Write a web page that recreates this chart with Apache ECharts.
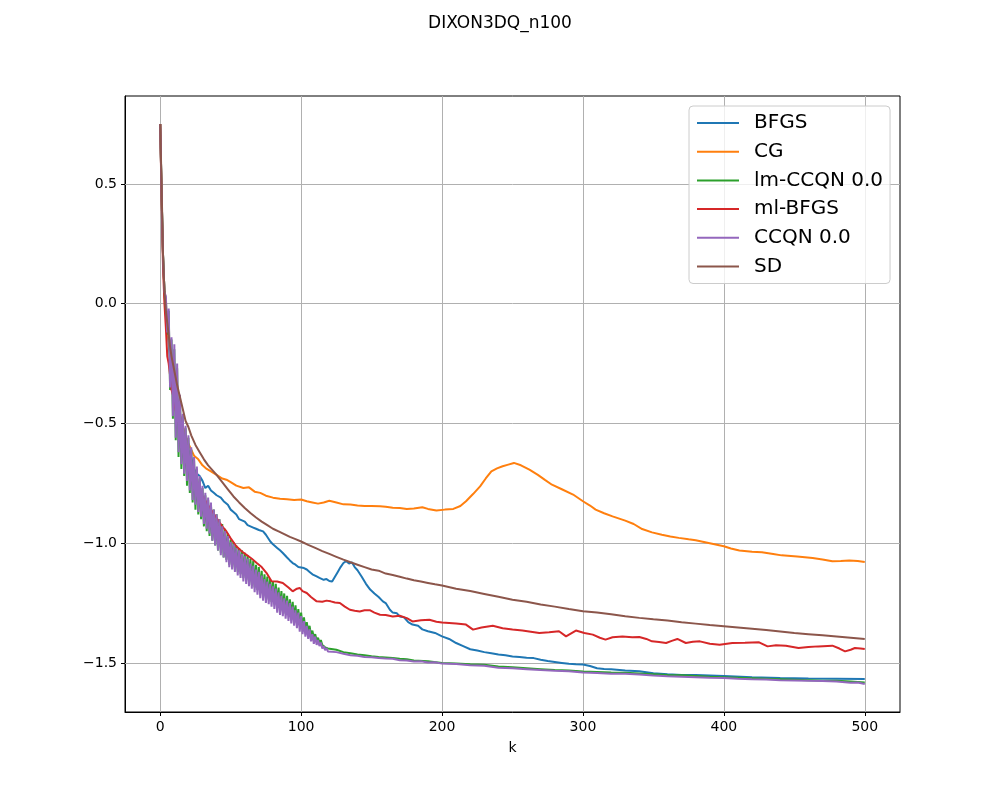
<!DOCTYPE html>
<html>
<head>
<meta charset="utf-8">
<script src="https://cdn.jsdelivr.net/npm/echarts@6/dist/echarts.min.js"></script>
<style>
  html, body { margin: 0; padding: 0; background: #fff; }
  #chart-container { width: 1000px; height: 800px; }
</style>
</head>
<body>
<div id="chart-container"></div>
<script>
const seriesNames = ["BFGS", "CG", "lm-CCQN 0.0", "ml-BFGS", "CCQN 0.0", "SD"];
const xTicks = [0, 100, 200, 300, 400, 500];
const yTicks = [-1.5, -1.0, -0.5, 0.0, 0.5];

// BFGS
const bfgsK = [0, 1, 2, 3, 4, 5, 6, 8, 10, 12, 14, 16, 18, 20, 22, 24, 26, 28, 30, 32, 34, 36, 38, 40, 43, 45, 48, 50, 52, 54, 56, 58, 60, 62, 64, 66, 68, 70, 73, 75, 78, 80, 83, 85, 87, 90, 92, 94, 96, 98, 100, 102, 104, 106, 108, 111, 113, 116, 118, 120, 122, 124, 126, 128, 130, 132, 134, 136, 138, 140, 143, 146, 149, 152, 155, 158, 160, 163, 165, 168, 170, 173, 176, 179, 183, 186, 190, 195, 200, 205, 210, 215, 220, 225, 230, 235, 240, 245, 250, 255, 260, 265, 270, 275, 280, 285, 290, 295, 300, 305, 310, 315, 320, 330, 340, 350, 360, 370, 380, 390, 400, 420, 440, 460, 480, 500];
const bfgsF = [0.75, 0.45, 0.2, 0.05, -0.04, -0.1, -0.17, -0.26, -0.35, -0.42, -0.48, -0.53, -0.57, -0.61, -0.64, -0.69, -0.71, -0.72, -0.74, -0.77, -0.76, -0.78, -0.79, -0.8, -0.81, -0.825, -0.84, -0.86, -0.87, -0.88, -0.9, -0.905, -0.91, -0.925, -0.93, -0.935, -0.94, -0.945, -0.951, -0.965, -0.992, -1.005, -1.02, -1.03, -1.041, -1.06, -1.072, -1.083, -1.09, -1.1, -1.102, -1.104, -1.11, -1.12, -1.13, -1.139, -1.145, -1.153, -1.15, -1.158, -1.16, -1.14, -1.12, -1.1, -1.083, -1.075, -1.085, -1.08, -1.1, -1.113, -1.14, -1.17, -1.194, -1.21, -1.225, -1.243, -1.25, -1.278, -1.29, -1.293, -1.306, -1.31, -1.33, -1.34, -1.345, -1.36, -1.368, -1.375, -1.389, -1.4, -1.417, -1.43, -1.443, -1.448, -1.455, -1.46, -1.465, -1.468, -1.473, -1.475, -1.478, -1.48, -1.487, -1.492, -1.496, -1.5, -1.504, -1.506, -1.507, -1.513, -1.522, -1.525, -1.527, -1.532, -1.535, -1.543, -1.547, -1.55, -1.551, -1.553, -1.555, -1.56, -1.563, -1.565, -1.566, -1.567];

// CG
const cgK = [0, 1, 2, 3, 4, 6, 8, 10, 12, 14, 16, 18, 20, 22, 24, 27, 30, 33, 36, 40, 44, 47, 50, 54, 59, 63, 67, 71, 75, 80, 85, 90, 95, 100, 104, 108, 112, 116, 120, 125, 130, 135, 140, 145, 150, 156, 160, 165, 170, 175, 180, 186, 190, 196, 202, 208, 213, 217, 222, 227, 231, 235, 239, 243, 247, 251, 256, 262, 268, 273, 278, 285, 293, 300, 305, 309, 315, 321, 330, 336, 342, 349, 356, 362, 368, 375, 380, 390, 400, 405, 411, 420, 427, 435, 441, 452, 463, 470, 477, 483, 489, 495, 500];
const cgF = [0.75, 0.45, 0.2, 0.05, -0.05, -0.15, -0.24, -0.32, -0.4, -0.46, -0.51, -0.55, -0.585, -0.61, -0.635, -0.65, -0.675, -0.69, -0.7, -0.715, -0.73, -0.735, -0.745, -0.76, -0.77, -0.767, -0.785, -0.79, -0.802, -0.81, -0.815, -0.817, -0.82, -0.818, -0.825, -0.83, -0.835, -0.83, -0.823, -0.83, -0.838, -0.839, -0.843, -0.845, -0.845, -0.846, -0.848, -0.852, -0.853, -0.857, -0.855, -0.85, -0.857, -0.864, -0.86, -0.857, -0.845, -0.825, -0.795, -0.763, -0.73, -0.7, -0.688, -0.679, -0.672, -0.665, -0.675, -0.693, -0.715, -0.736, -0.756, -0.775, -0.797, -0.825, -0.843, -0.86, -0.875, -0.888, -0.906, -0.92, -0.941, -0.955, -0.965, -0.972, -0.978, -0.984, -0.988, -1.0, -1.013, -1.022, -1.031, -1.036, -1.038, -1.045, -1.051, -1.056, -1.062, -1.068, -1.076, -1.075, -1.072, -1.075, -1.079];

// lm-CCQN 0.0: every iteration up to k = 120, then sparser
const lmHead = [0.75, 0.45, 0.2, 0.05, 0.02, -0.13, -0.03, -0.36, -0.15, -0.48, -0.19, -0.57, -0.27, -0.64, -0.39, -0.69, -0.47, -0.72, -0.52, -0.76, -0.56, -0.79, -0.61, -0.83, -0.65, -0.86, -0.69, -0.88, -0.73, -0.9, -0.77, -0.93, -0.8, -0.95, -0.82, -0.97, -0.84, -0.99, -0.86, -1.01, -0.88, -1.03, -0.9, -1.04, -0.92, -1.06, -0.94, -1.07, -0.96, -1.09, -0.985, -1.1, -0.995, -1.11, -1.01, -1.12, -1.02, -1.13, -1.03, -1.145, -1.04, -1.155, -1.05, -1.165, -1.065, -1.175, -1.075, -1.185, -1.09, -1.195, -1.1, -1.21, -1.115, -1.22, -1.13, -1.23, -1.14, -1.235, -1.15, -1.245, -1.16, -1.255, -1.17, -1.265, -1.185, -1.275, -1.2, -1.285, -1.21, -1.295, -1.22, -1.3, -1.235, -1.31, -1.245, -1.32, -1.26, -1.33, -1.275, -1.34, -1.29, -1.35, -1.31, -1.36, -1.33, -1.37, -1.345, -1.385, -1.365, -1.395, -1.38, -1.405, -1.395, -1.415, -1.405, -1.425, -1.42, -1.435, -1.43, -1.44, -1.438];
const lmTailK = [125, 130, 135, 140, 145, 150, 155, 160, 165, 170, 175, 180, 190, 200, 210, 220, 230, 240, 250, 260, 270, 280, 290, 300, 310, 320, 330, 340, 350, 360, 370, 380, 390, 400, 410, 420, 430, 440, 450, 460, 470, 480, 490, 500];
const lmTailF = [-1.445, -1.455, -1.46, -1.465, -1.468, -1.472, -1.475, -1.477, -1.48, -1.483, -1.485, -1.49, -1.493, -1.5, -1.502, -1.506, -1.508, -1.515, -1.518, -1.522, -1.526, -1.53, -1.532, -1.536, -1.538, -1.54, -1.541, -1.544, -1.547, -1.55, -1.552, -1.555, -1.558, -1.56, -1.562, -1.564, -1.566, -1.568, -1.57, -1.572, -1.574, -1.575, -1.578, -1.582];

// ml-BFGS
const mlK = [0, 1, 2, 3, 4, 5, 6, 7, 8, 9, 10, 12, 14, 16, 18, 20, 22, 24, 26, 28, 31, 33, 36, 40, 44, 47, 50, 54, 58, 61, 65, 68.5, 72, 75.5, 79, 83, 87, 91, 94, 97, 99, 101, 104, 107, 111, 115, 118, 121, 124, 127.5, 131, 134.6, 138, 141.6, 145, 148.7, 152, 156, 160, 165, 170, 175, 179, 185, 191, 196, 200, 205, 210, 217, 222, 228, 236, 243, 250, 257, 263, 269, 276, 283, 288, 295, 301, 307, 312, 316, 321, 328, 335, 340, 345, 349, 354, 359, 363, 367, 373, 378, 383, 390, 397, 406, 415, 425, 431, 437, 444, 453, 460, 467, 477, 482, 486, 490, 493, 497, 500];
const mlF = [0.75, 0.42, 0.15, 0.0, -0.1, -0.22, -0.25, -0.3, -0.36, -0.38, -0.42, -0.47, -0.52, -0.58, -0.62, -0.66, -0.69, -0.73, -0.76, -0.79, -0.811, -0.832, -0.86, -0.895, -0.93, -0.951, -0.98, -1.013, -1.035, -1.048, -1.065, -1.083, -1.1, -1.125, -1.159, -1.16, -1.166, -1.185, -1.201, -1.19, -1.187, -1.2, -1.208, -1.225, -1.243, -1.245, -1.24, -1.243, -1.248, -1.25, -1.265, -1.278, -1.282, -1.285, -1.28, -1.28, -1.29, -1.299, -1.3, -1.306, -1.303, -1.313, -1.327, -1.322, -1.32, -1.328, -1.331, -1.333, -1.335, -1.34, -1.361, -1.352, -1.345, -1.355, -1.361, -1.365, -1.37, -1.375, -1.372, -1.368, -1.389, -1.365, -1.375, -1.382, -1.395, -1.403, -1.393, -1.39, -1.393, -1.392, -1.4, -1.41, -1.413, -1.417, -1.408, -1.4, -1.417, -1.412, -1.41, -1.42, -1.424, -1.417, -1.416, -1.414, -1.431, -1.426, -1.428, -1.438, -1.434, -1.431, -1.428, -1.44, -1.452, -1.445, -1.438, -1.44, -1.442];

// CCQN 0.0: every iteration up to k = 120, then sparser
const ccqnHead = [0.75, 0.45, 0.2, 0.05, 0.03, -0.12, -0.02, -0.35, -0.14, -0.47, -0.17, -0.56, -0.25, -0.62, -0.38, -0.67, -0.46, -0.71, -0.51, -0.74, -0.55, -0.78, -0.6, -0.82, -0.64, -0.84, -0.68, -0.87, -0.72, -0.89, -0.76, -0.92, -0.79, -0.94, -0.81, -0.96, -0.83, -0.99, -0.86, -1.01, -0.88, -1.03, -0.9, -1.05, -0.93, -1.06, -0.95, -1.08, -0.97, -1.1, -0.995, -1.11, -1.005, -1.12, -1.02, -1.135, -1.03, -1.145, -1.045, -1.16, -1.055, -1.17, -1.065, -1.18, -1.085, -1.19, -1.095, -1.205, -1.11, -1.215, -1.12, -1.23, -1.135, -1.24, -1.15, -1.25, -1.16, -1.255, -1.17, -1.265, -1.18, -1.275, -1.19, -1.29, -1.205, -1.3, -1.22, -1.305, -1.23, -1.315, -1.24, -1.325, -1.25, -1.335, -1.265, -1.345, -1.28, -1.355, -1.29, -1.37, -1.305, -1.38, -1.325, -1.39, -1.345, -1.4, -1.36, -1.41, -1.38, -1.42, -1.39, -1.425, -1.405, -1.43, -1.415, -1.44, -1.43, -1.447, -1.438, -1.452, -1.445];
const ccqnTailK = [125, 130, 135, 140, 145, 150, 155, 160, 165, 170, 175, 180, 185, 190, 195, 200, 210, 220, 230, 240, 250, 260, 270, 280, 290, 300, 310, 320, 330, 340, 350, 360, 370, 380, 390, 400, 410, 420, 430, 440, 450, 460, 470, 480, 490, 495, 500];
const ccqnTailF = [-1.455, -1.462, -1.468, -1.47, -1.475, -1.476, -1.48, -1.482, -1.483, -1.489, -1.49, -1.494, -1.493, -1.498, -1.497, -1.503, -1.505, -1.51, -1.512, -1.52, -1.522, -1.526, -1.53, -1.533, -1.535, -1.54, -1.542, -1.545, -1.545, -1.548, -1.553, -1.556, -1.558, -1.56, -1.562, -1.563, -1.566, -1.568, -1.569, -1.572, -1.573, -1.575, -1.576, -1.578, -1.583, -1.582, -1.588];

// SD
const sdK = [0, 1, 2, 3, 4, 5, 6, 7, 8, 9, 10, 12, 14, 16, 18, 20, 22, 25, 28, 31, 34, 37, 40, 44, 48, 52, 56, 60, 64, 68, 72, 76, 80, 84, 88, 92, 96, 100, 105, 110, 115, 120, 125, 130, 135, 140, 145, 150, 155, 160, 165, 170, 175, 180, 185, 190, 195, 200, 210, 220, 230, 240, 250, 260, 270, 280, 290, 300, 310, 320, 330, 340, 350, 360, 370, 380, 390, 400, 410, 420, 430, 440, 450, 460, 470, 480, 490, 500];
const sdF = [0.75, 0.48, 0.2, 0.05, -0.03, -0.08, -0.13, -0.18, -0.22, -0.25, -0.28, -0.34, -0.39, -0.44, -0.49, -0.515, -0.55, -0.59, -0.62, -0.65, -0.675, -0.695, -0.715, -0.745, -0.775, -0.805, -0.83, -0.853, -0.874, -0.893, -0.91, -0.925, -0.94, -0.951, -0.962, -0.974, -0.983, -0.993, -1.007, -1.02, -1.033, -1.045, -1.057, -1.069, -1.08, -1.09, -1.1, -1.11, -1.115, -1.127, -1.133, -1.14, -1.148, -1.155, -1.16, -1.166, -1.172, -1.177, -1.19, -1.2, -1.212, -1.224, -1.236, -1.245, -1.256, -1.265, -1.275, -1.284, -1.29, -1.297, -1.305, -1.312, -1.318, -1.323, -1.33, -1.336, -1.342, -1.347, -1.352, -1.357, -1.363, -1.369, -1.375, -1.38, -1.385, -1.39, -1.395, -1.4];

const colors = ["#1f77b4", "#ff7f0e", "#2ca02c", "#d62728", "#9467bd", "#8c564b"];

function pairs(ks, fs) {
  return ks.map((k, i) => [k, fs[i]]);
}
function headPairs(head, tailK, tailF) {
  return head.map((f, k) => [k, f]).concat(pairs(tailK, tailF));
}

const seriesData = [
  pairs(bfgsK, bfgsF),
  pairs(cgK, cgF),
  headPairs(lmHead, lmTailK, lmTailF),
  pairs(mlK, mlF),
  headPairs(ccqnHead, ccqnTailK, ccqnTailF),
  pairs(sdK, sdF),
];

const fontFamily = "DejaVu Sans";

var dom = document.getElementById("chart-container");
var myChart = echarts.init(dom, null, { renderer: "canvas" });

var option = {
  animation: false,
  backgroundColor: "#fff",
  textStyle: { fontFamily: fontFamily },
  title: {
    text: "DIXON3DQ_n100",
    left: "center",
    top: 10,
    textStyle: { fontFamily: fontFamily, fontSize: 17, fontWeight: "normal", color: "#000" },
  },
  legend: {
    orient: "vertical",
    left: 689,
    top: 106,
    padding: [7, 7, 7, 8],
    icon: "rect",
    itemWidth: 42,
    itemHeight: 2,
    itemGap: 8.7,
    backgroundColor: "rgba(255,255,255,0.8)",
    borderColor: "#cccccc",
    borderWidth: 1,
    borderRadius: 4,
    textStyle: { fontFamily: fontFamily, fontSize: 20, color: "#000", padding: [0, 0, 0, 10] },
    data: seriesNames,
  },
  grid: {
    left: 125,
    right: 100,
    top: 96,
    bottom: 88,
    show: true,
    borderColor: "#000",
    borderWidth: 1,
  },
  xAxis: {
    type: "value",
    min: -25,
    max: 525,
    name: "k",
    nameLocation: "middle",
    nameGap: 29,
    nameTextStyle: { fontFamily: fontFamily, fontSize: 14, color: "#000" },
    axisLine: { show: true, onZero: false, lineStyle: { color: "#000", width: 1 } },
    axisTick: { show: true, length: 4, customValues: xTicks, lineStyle: { color: "#000" } },
    axisLabel: {
      customValues: xTicks,
      margin: 8,
      fontFamily: fontFamily,
      fontSize: 14,
      color: "#000",
    },
    splitLine: { show: false },
  },
  yAxis: {
    type: "value",
    min: -1.705,
    max: 0.867,
    axisLine: { show: true, onZero: false, lineStyle: { color: "#000", width: 1 } },
    axisTick: { show: true, length: 4, customValues: yTicks, lineStyle: { color: "#000" } },
    axisLabel: {
      customValues: yTicks,
      margin: 8,
      fontFamily: fontFamily,
      fontSize: 14,
      color: "#000",
      formatter: function (v) {
        return (v < 0 ? "\u2212" : "") + Math.abs(v).toFixed(1);
      },
    },
    splitLine: { show: false },
  },
  series: seriesNames.map((name, i) => ({
    name: name,
    type: "line",
    data: seriesData[i],
    symbol: "none",
    color: colors[i],
    lineStyle: { width: 2, color: colors[i] },
    z: 3,
    markLine: i === 0 ? {
      silent: true,
      symbol: "none",
      animation: false,
      label: { show: false },
      lineStyle: { color: "#b0b0b0", width: 1, type: "solid" },
      data: xTicks.map(v => ({ xAxis: v })).concat(yTicks.map(v => ({ yAxis: v }))),
      z: 1,
    } : undefined,
  })),
};

if (option && typeof option === "object") {
  myChart.setOption(option);
}

window.addEventListener("resize", myChart.resize);
</script>
</body>
</html>
